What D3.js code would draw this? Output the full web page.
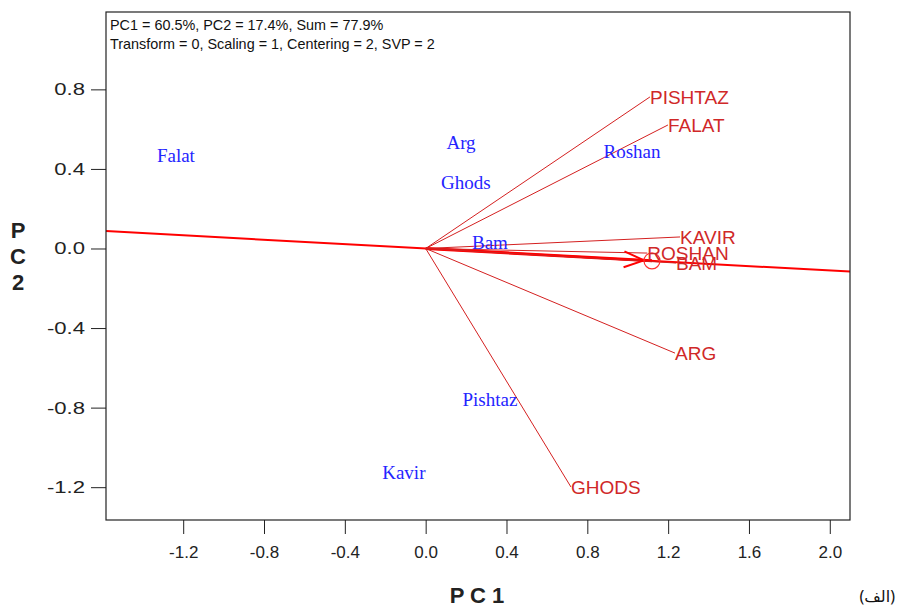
<!DOCTYPE html>
<html><head><meta charset="utf-8">
<script src="https://cdn.jsdelivr.net/npm/d3@7"></script>
<style>body{margin:0;background:#fff}svg{display:block}</style>
</head><body>
<svg id="c" width="898" height="607"></svg>
<script>
const pc1Ticks = [-1.2,-0.8,-0.4,0.0,0.4,0.8,1.2,1.6,2.0];
const pc2Ticks = [0.8,0.4,0.0,-0.4,-0.8,-1.2];
const genotypes = ["Falat","Arg","Ghods","Roshan","Bam","Pishtaz","Kavir"];
const genoPC1 = [-1.236,0.175,0.199,1.021,0.318,0.318,-0.108];
const genoPC2 = [0.470,0.535,0.334,0.486,0.033,-0.757,-1.124];
const environments = ["PISHTAZ","FALAT","KAVIR","ROSHAN","BAM","ARG","GHODS"];
const envPC1 = [1.110,1.199,1.259,1.097,1.239,1.234,0.719];
const envPC2 = [0.762,0.621,0.058,-0.023,-0.073,-0.526,-1.199];
const aecPoint = [1.12,-0.062];
const header = ["PC1 = 60.5%, PC2 = 17.4%, Sum = 77.9%","Transform = 0, Scaling = 1, Centering = 2, SVP = 2"];

const svg = d3.select("#c");
const L=106,R=850,T=12,B=520;
const xDom=[-1.582,2.100], yDom=[1.189,-1.365];
const x = d3.scaleLinear().domain(xDom).range([L,R]);
const y = d3.scaleLinear().domain(yDom).range([T,B]);
const fmt = d => d3.format(".1f")(d).replace("\u2212","-");
const SANS = "Arial, 'Liberation Sans', sans-serif";

svg.append("defs").append("clipPath").attr("id","clip").append("rect")
  .attr("x",L).attr("y",T).attr("width",R-L).attr("height",B-T);

// axes
const gx = svg.append("g").attr("transform",`translate(0,${B})`)
  .call(d3.axisBottom(x).tickValues(pc1Ticks).tickSize(14).tickPadding(12).tickFormat(fmt));
gx.select(".domain").remove();
gx.selectAll("line").attr("stroke","#222");
gx.selectAll("text").attr("font-family",SANS).attr("font-size",17).attr("fill","#222");

const gy = svg.append("g").attr("transform",`translate(${L},0)`)
  .call(d3.axisLeft(y).tickValues(pc2Ticks).tickSize(15).tickPadding(6).tickFormat(fmt));
gy.select(".domain").remove();
gy.selectAll("line").attr("stroke","#222");
const sx = 1.3;
gy.selectAll("text").attr("font-family",SANS).attr("font-size",17).attr("fill","#222")
  .attr("x",-21/sx).attr("transform",`scale(${sx},1)`);

const plot = svg.append("g").attr("clip-path","url(#clip)");

// average environment axis through origin
const slope = aecPoint[1]/aecPoint[0];
plot.append("line")
  .attr("x1",x(xDom[0])).attr("y1",y(slope*xDom[0]))
  .attr("x2",x(xDom[1])).attr("y2",y(slope*xDom[1]))
  .attr("stroke","#ff0000").attr("stroke-width",2);
plot.append("line")
  .attr("x1",x(0)).attr("y1",y(0))
  .attr("x2",x(aecPoint[0])).attr("y2",y(aecPoint[1]))
  .attr("stroke","#ff0000").attr("stroke-width",3);

// environment vectors
environments.forEach((e,i)=>{
  plot.append("line")
    .attr("x1",x(0)).attr("y1",y(0))
    .attr("x2",x(envPC1[i])).attr("y2",y(envPC2[i]))
    .attr("stroke","#d42020").attr("stroke-width",1);
});

// arrowhead towards aec circle
const cx=x(aecPoint[0]), cy=y(aecPoint[1]);
const dx=cx-x(0), dy=cy-y(0), len=Math.hypot(dx,dy), ux=dx/len, uy=dy/len;
const tipX=cx-8*ux, tipY=cy-8*uy;
[1,-1].forEach(s=>{
  plot.append("line")
    .attr("x1",tipX).attr("y1",tipY)
    .attr("x2",tipX-20*ux - s*8*uy).attr("y2",tipY-20*uy + s*8*ux)
    .attr("stroke","#ff0000").attr("stroke-width",2);
});
plot.append("circle").attr("cx",cx).attr("cy",cy).attr("r",8)
  .attr("fill","none").attr("stroke","#ff3030").attr("stroke-width",1.2);

// environment labels
environments.forEach((e,i)=>{
  svg.append("text").attr("x",x(envPC1[i])).attr("y",y(envPC2[i]))
    .attr("dy","0.36em").attr("font-family",SANS)
    .attr("font-size",19).attr("fill","#d02828").text(e);
});

// genotype labels
genotypes.forEach((g,i)=>{
  svg.append("text").attr("x",x(genoPC1[i])).attr("y",y(genoPC2[i]))
    .attr("dy","0.35em").attr("text-anchor","middle")
    .attr("font-family","'Times New Roman', 'Liberation Serif', serif")
    .attr("font-size",19).attr("fill","#2424ff").text(g);
});

// frame
svg.append("rect").attr("x",L).attr("y",T).attr("width",R-L).attr("height",B-T)
  .attr("fill","none").attr("stroke","#222").attr("stroke-width",1.2);

// header
header.forEach((h,i)=>{
  svg.append("text").attr("x",110).attr("y",30+i*19)
    .attr("font-family",SANS).attr("font-size",14.4).attr("fill","#111").text(h);
});

// axis titles
svg.append("text").attr("x",477).attr("y",603).attr("text-anchor","middle")
  .attr("font-family",SANS).attr("font-weight","bold").attr("font-size",22)
  .attr("fill","#222").text("P C 1");
["P","C","2"].forEach((c,i)=>{
  svg.append("text").attr("x",18).attr("y",238+i*26).attr("text-anchor","middle")
    .attr("font-family",SANS).attr("font-weight","bold").attr("font-size",22)
    .attr("fill","#222").text(c);
});
svg.append("text").attr("x",895).attr("y",602).attr("text-anchor","end")
  .attr("font-family","'Noto Sans', 'DejaVu Sans', sans-serif").attr("font-size",16).attr("fill","#111").text("(الف)");
</script>
</body></html>
